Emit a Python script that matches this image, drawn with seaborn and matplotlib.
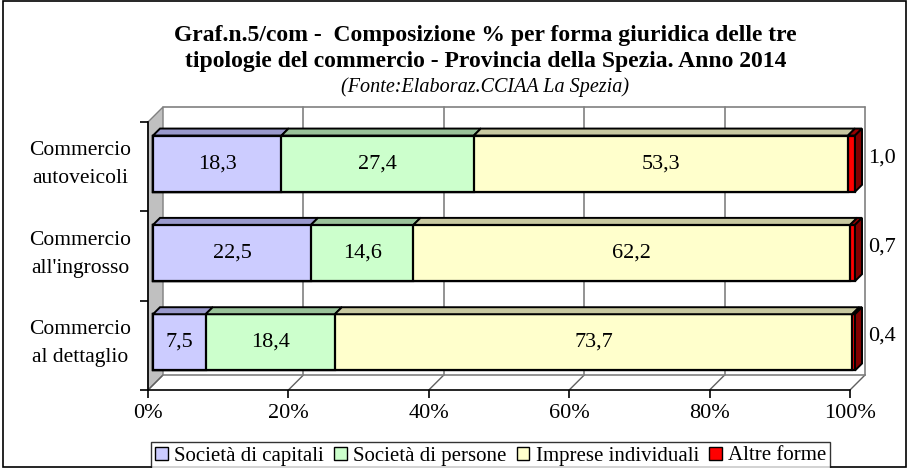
import numpy as np
import pandas as pd
import matplotlib
matplotlib.use("Agg")
import matplotlib.pyplot as plt
from matplotlib.patches import Polygon, Rectangle
from matplotlib.transforms import ScaledTranslation
import seaborn as sns

# data
categories = ["Commercio\nautoveicoli", "Commercio\nall'ingrosso", "Commercio\nal dettaglio"]
series_names = ["Società di capitali", "Società di persone", "Imprese individuali", "Altre forme"]
capitali = [18.3, 22.5, 7.5]
persone = [27.4, 14.6, 18.4]
individuali = [53.3, 62.2, 73.7]
altre = [1.0, 0.7, 0.4]
xtick_labels = ["0%", "20%", "40%", "60%", "80%", "100%"]

front_colors = ["#CCCCFF", "#CCFFCC", "#FFFFCC", "#FF0000"]
top_colors = ["#9999CC", "#99C299", "#C8C8A0", "#990000"]

sns.set_style("white")
plt.rcParams['font.family'] = ['Liberation Serif', 'DejaVu Serif']
plt.rcParams['text.color'] = 'black'
plt.rcParams['xtick.color'] = 'black'
plt.rcParams['ytick.color'] = 'black'

values = np.array([capitali, persone, individuali, altre])
cum = np.cumsum(values, axis=0)
df = pd.DataFrame({"cat": categories})
for i, name in enumerate(series_names):
    df[name] = cum[i]

fig = plt.figure(figsize=(9.09, 4.68), dpi=100)
ax = fig.add_axes([148 / 909, 1 - 390 / 468, 702 / 909, 268 / 468])

# bars sit a little behind the front plane
bar_shift = ax.transData + ScaledTranslation(0.05, 0.03, fig.dpi_scale_trans)

bar_h = 0.63
# cumulative trick: longest first, shorter drawn on top
for i in range(len(series_names) - 1, -1, -1):
    sns.barplot(data=df, x=series_names[i], y="cat", color=front_colors[i],
                saturation=1, width=bar_h, edgecolor="black", linewidth=1.6,
                orient="h", ax=ax, zorder=3)
for p in ax.patches:
    p.set_transform(bar_shift)
    p.set_clip_on(False)

ax.set_xlim(0, 100)
ax.set_ylim(2.5, -0.5)
ylo, yhi = 2.5, -0.5

dx, dy = 1.0, 0.078      # bar depth
wx, wy = 2.14, 0.168     # wall depth

# top faces and side face
for j in range(len(categories)):
    top = j - bar_h / 2
    left = 0
    for i in range(len(series_names)):
        right = cum[i][j]
        ax.add_patch(Polygon([(left, top), (right, top), (right + dx, top - dy), (left + dx, top - dy)],
                             closed=True, facecolor=top_colors[i], edgecolor="black", lw=1.4, zorder=4,
                             clip_on=False, transform=bar_shift))
        left = right
    ax.add_patch(Polygon([(right, top), (right + dx, top - dy), (right + dx, top + bar_h - dy), (right, top + bar_h)],
                         closed=True, facecolor="#800000", edgecolor="black", lw=1.4, zorder=4, clip_on=False,
                         transform=bar_shift))

# walls, floor and gridlines
ax.add_patch(Polygon([(0, ylo), (0, yhi), (wx, yhi - wy), (wx, ylo - wy)],
                     closed=True, facecolor="#C0C0C0", edgecolor="#808080", lw=1, zorder=0, clip_on=False))
for v in [20, 40, 60, 80, 100]:
    ax.plot([v + wx, v + wx], [ylo - wy, yhi - wy], color="#808080", lw=1.2, zorder=1, clip_on=False)
for v in [0, 20, 40, 60, 80, 100]:
    ax.plot([v, v + wx], [ylo, ylo - wy], color="#606060", lw=1, zorder=1, clip_on=False)
ax.plot([wx, 100 + wx], [ylo - wy, ylo - wy], color="#808080", lw=1.2, zorder=1, clip_on=False)
ax.plot([wx, 100 + wx], [yhi - wy, yhi - wy], color="#808080", lw=1.2, zorder=1, clip_on=False)

# labels on segments
for j in range(len(categories)):
    left = 0
    for i in range(3):
        ax.text(left + values[i][j] / 2, j, f"{values[i][j]:.1f}".replace(".", ","),
                ha="center", va="center", fontsize=16, zorder=6, transform=bar_shift)
        left += values[i][j]
    ax.text(104.6, j - 0.1, f"{altre[j]:.1f}".replace(".", ","), ha="center", va="center",
            fontsize=16, clip_on=False)
    ax.text(-9.7, j - 0.02, categories[j], ha="center", va="center", fontsize=15.5, clip_on=False,
            linespacing=1.65)

ax.set_xticks([0, 20, 40, 60, 80, 100])
ax.set_xticklabels(xtick_labels, fontsize=16)
ax.set_yticks([])
ax.set_yticks([-0.5, 0.5, 1.5, 2.5], minor=True)
ax.tick_params(axis="y", which="minor", left=True, length=6, width=1.2, color="black")
ax.tick_params(axis="x", bottom=True, length=6, width=1.2, color="black", pad=4)
ax.set_xlabel("")
ax.set_ylabel("")
for s in ["top", "right"]:
    ax.spines[s].set_visible(False)
for s in ["left", "bottom"]:
    ax.spines[s].set_color("black")
    ax.spines[s].set_linewidth(1.2)
ax.grid(False)

# title
fig.text(0.534, 1 - 36 / 468, "Graf.n.5/com -  Composizione % per forma giuridica delle tre", ha="center",
         va="center", fontsize=17, fontweight="bold")
fig.text(0.534, 1 - 62 / 468, "tipologie del commercio - Provincia della Spezia. Anno 2014", ha="center",
         va="center", fontsize=17, fontweight="bold")
fig.text(0.534, 1 - 87 / 468, "(Fonte:Elaboraz.CCIAA La Spezia)", ha="center", va="center",
         fontsize=14.5, style="italic")

# legend
handles = [Rectangle((0, 0), 1, 1, facecolor=c, edgecolor="black", lw=1) for c in front_colors]
leg = fig.legend(handles, series_names, loc="center", bbox_to_anchor=(0.540, 1 - 456 / 468), ncol=4,
                 fontsize=15, frameon=True, fancybox=False, edgecolor="black",
                 handlelength=0.6, handleheight=0.6, handletextpad=0.3, columnspacing=0.5,
                 borderpad=0.2, borderaxespad=0)
leg.get_frame().set_linewidth(1)

fig.patches.append(Rectangle((0.003, 0.003), 0.994, 0.994, transform=fig.transFigure,
                             fill=False, edgecolor="black", lw=1.2))

fig.savefig("out.png", dpi=100)
